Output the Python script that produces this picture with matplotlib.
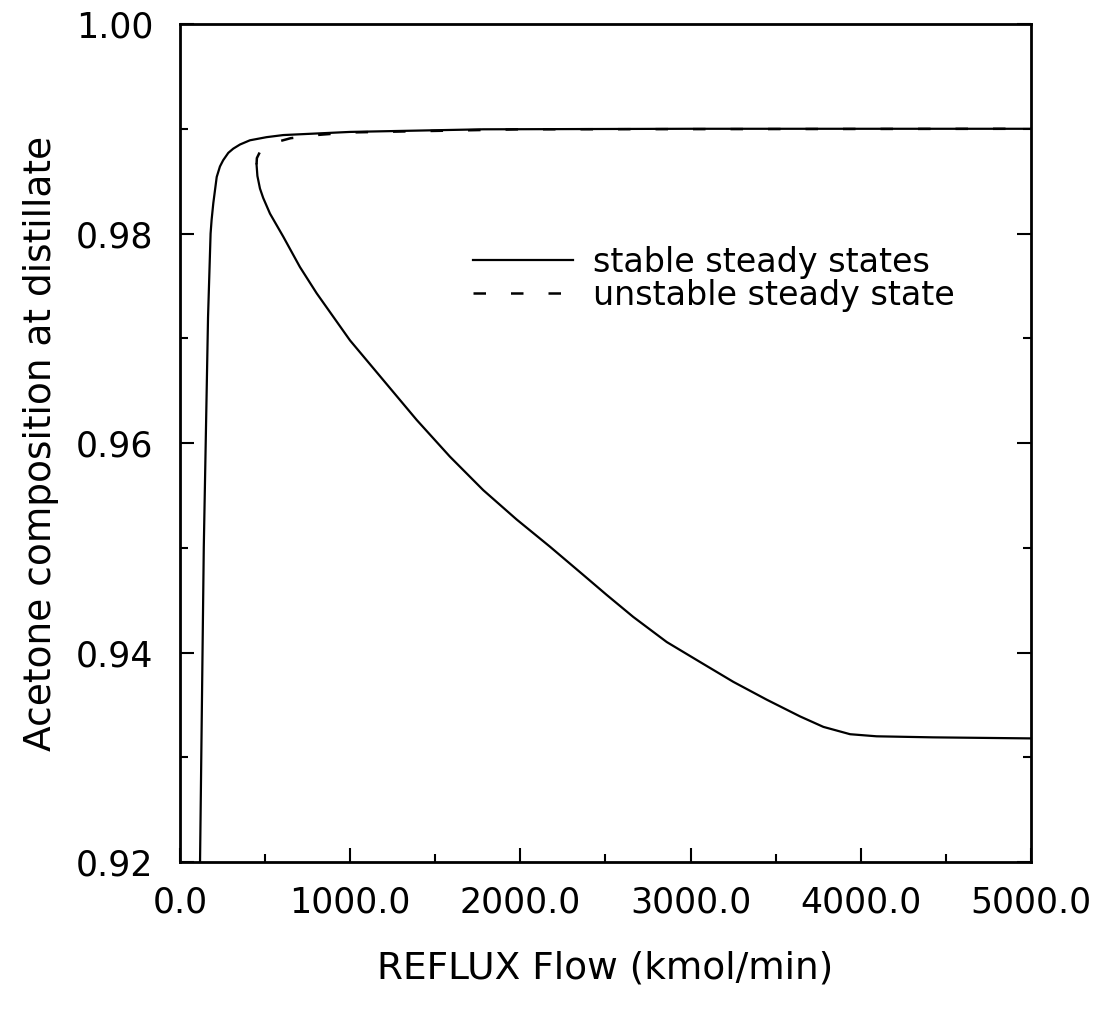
import matplotlib
matplotlib.use("Agg")
import matplotlib.pyplot as plt
from matplotlib.ticker import MultipleLocator, FormatStrFormatter

# upper stable branch (high purity)
upper_x = [118, 140, 165, 180, 186, 196, 216, 235, 254, 284, 313, 353, 411, 509, 607,
           999, 1782, 3000, 5000]
upper_y = [0.920, 0.950, 0.972, 0.9800, 0.9813, 0.9829, 0.9854, 0.9864, 0.9870, 0.9877,
           0.9881, 0.9885, 0.9889, 0.9892, 0.9894, 0.9897, 0.98995, 0.9900, 0.9900]

# lower stable branch, starts at the fold
lower_x = [450, 455, 470, 489, 529, 607, 705, 803, 999, 1195, 1391, 1586, 1782, 1978,
           2174, 2370, 2507, 2663, 2860, 3055, 3251, 3447, 3643, 3780, 3937, 4093,
           4424, 5000]
lower_y = [0.9866, 0.9855, 0.9843, 0.9834, 0.9819, 0.9797, 0.9768, 0.9743, 0.9698,
           0.9660, 0.9622, 0.9587, 0.9555, 0.9527, 0.9501, 0.9474, 0.9455, 0.9434,
           0.9410, 0.9391, 0.9372, 0.9355, 0.9339, 0.9329, 0.9322, 0.9320, 0.9319,
           0.9318]

# unstable branch, from the fold up to the upper branch
unstable_x = [450, 452, 470, 510, 560, 650, 800, 1000, 2000, 5000]
unstable_y = [0.9866, 0.9872, 0.9878, 0.9883, 0.9887, 0.9891, 0.9894, 0.98965, 0.98995, 0.9900]

fig = plt.figure(figsize=(11.06, 10.14), dpi=100)
ax = fig.add_axes([0.1627, 0.1499, 0.7695, 0.8264])

ax.plot(upper_x, upper_y, color='black', lw=1.6, label='stable steady states')
ax.plot(lower_x, lower_y, color='black', lw=1.6)
ax.plot(unstable_x, unstable_y, color='black', lw=1.8, dashes=(5, 10),
        label='unstable steady state')

ax.set_xlim(0, 5000)
ax.set_ylim(0.92, 1.00)
ax.xaxis.set_major_locator(MultipleLocator(1000))
ax.xaxis.set_minor_locator(MultipleLocator(500))
ax.yaxis.set_major_locator(MultipleLocator(0.02))
ax.yaxis.set_minor_locator(MultipleLocator(0.01))
ax.xaxis.set_major_formatter(FormatStrFormatter('%.1f'))
ax.yaxis.set_major_formatter(FormatStrFormatter('%.2f'))

ax.tick_params(which='both', direction='in', right=True, top=False, width=1.5)
ax.tick_params(which='major', length=10, labelsize=25)
ax.tick_params(which='minor', length=6)
ax.tick_params(axis='y', which='major', pad=19)
ax.tick_params(axis='x', which='major', pad=17)
for s in ax.spines.values():
    s.set_linewidth(2)

ax.set_xlabel('REFLUX Flow (kmol/min)', fontsize=27, labelpad=22)
ax.set_ylabel('Acetone composition at distillate', fontsize=27, labelpad=12)

ax.legend(loc='upper left', bbox_to_anchor=(0.344, 0.735), frameon=False,
          fontsize=24, handlelength=3.0, handletextpad=0.6, labelspacing=0.0,
          borderpad=0, borderaxespad=0)

fig.savefig('out.png', dpi=100)
